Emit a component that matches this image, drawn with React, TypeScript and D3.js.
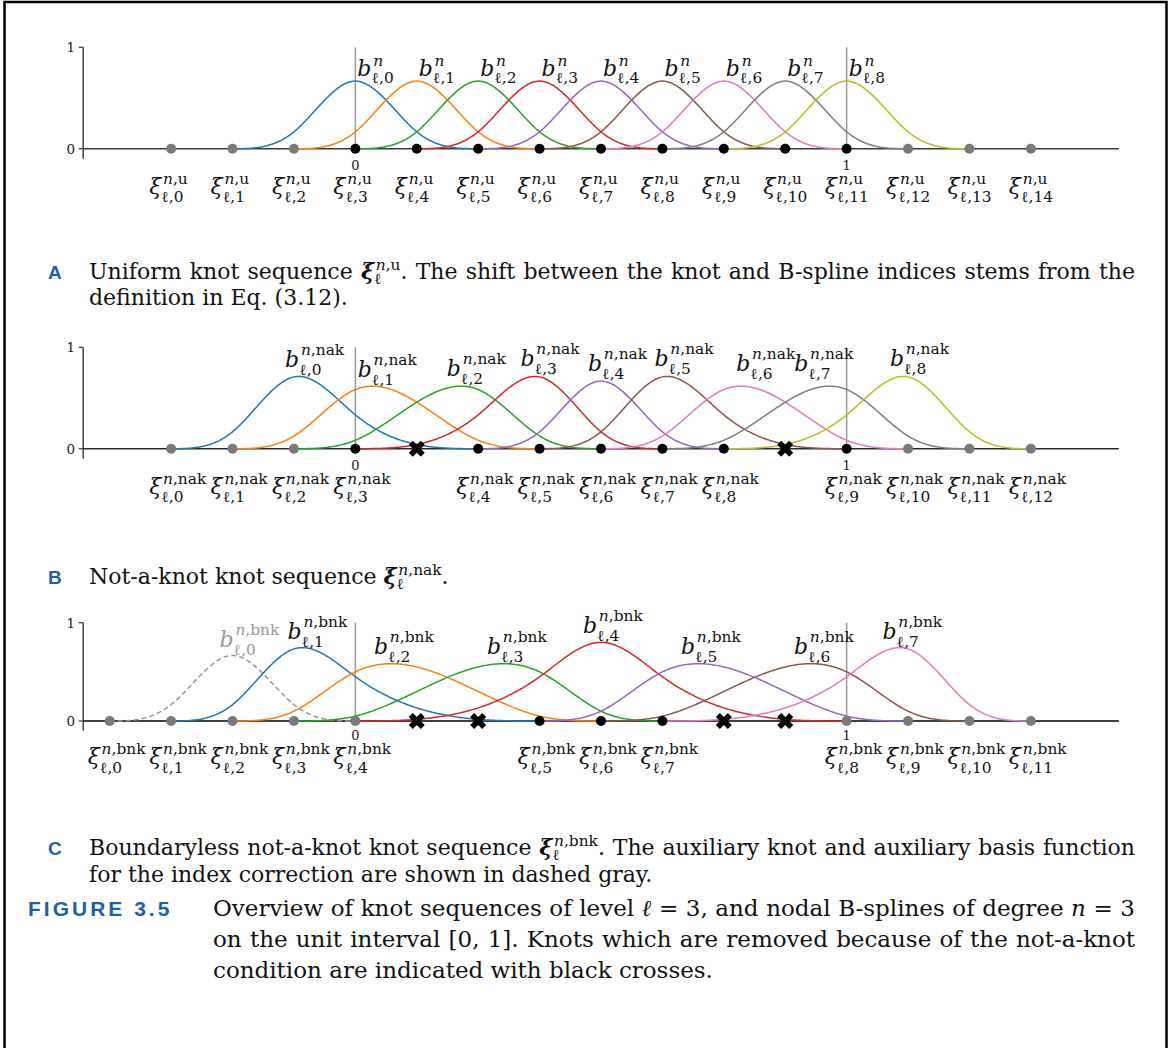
import React from 'react';
import * as d3 from 'd3';

// ---------------- data ----------------
const knotsUniform = [-0.375, -0.25, -0.125, 0, 0.125, 0.25, 0.375, 0.5, 0.625, 0.75, 0.875, 1, 1.125, 1.25, 1.375];
const removedUniform: number[] = [];
const splineFirstKnotUniform = [1, 2, 3, 4, 5, 6, 7, 8, 9];

const knotsNak = [-0.375, -0.25, -0.125, 0, 0.25, 0.375, 0.5, 0.625, 0.75, 1, 1.125, 1.25, 1.375];
const removedNak = [0.125, 0.875];
const splineFirstKnotNak = [0, 1, 2, 3, 4, 5, 6, 7, 8];

const knotsBnk = [-0.5, -0.375, -0.25, -0.125, 0, 0.375, 0.5, 0.625, 1, 1.125, 1.25, 1.375];
const removedBnk = [0.125, 0.25, 0.75, 0.875];
const splineFirstKnotBnk = [0, 1, 2, 3, 4, 5, 6, 7];

const yTickValues = [0, 1];
const xTickValues = [0, 1];
const xTickLabels = ['0', '1'];
const splineColors = ['#1f77b4', '#ff7f0e', '#2ca02c', '#d62728', '#9467bd', '#8c564b', '#e377c2', '#7f7f7f', '#bcbd22', '#17becf'];

// ---------------- layout / style ----------------
const SERIF = 'DejaVu Serif';
const SANS = 'Liberation Sans';
const BLUE = '#1f5fa6';
const KNOT_GRAY = '#7a7a7a';

const xScale = d3.scaleLinear().domain([-0.554, 1.554]).range([83.2, 1118.8]);

type Part = { t: string; i?: boolean; b?: boolean };
type MathF = { kind: 'math'; base: Part; sup: Part[]; sub: Part[] };
type TextF = { kind: 'text'; parts: Part[] };
type Frag = MathF | TextF;
type Word = Frag[];

let ctx: CanvasRenderingContext2D | null = null;
function measure(text: string, size: number, italic = false, bold = false, family = SERIF) {
  if (!ctx) ctx = document.createElement('canvas').getContext('2d');
  if (!ctx) return text.length * size * 0.55;
  ctx.font = `${italic ? 'italic ' : ''}${bold ? 'bold ' : ''}${size}px "${family}"`;
  return ctx.measureText(text).width;
}
const partsWidth = (parts: Part[], size: number) => parts.reduce((s, p) => s + measure(p.t, size, p.i, p.b), 0);

function Parts({ parts }: { parts: Part[] }) {
  return (
    <>
      {parts.map((p, j) => (
        <tspan key={j} fontStyle={p.i ? 'italic' : 'normal'} fontWeight={p.b ? 'bold' : 'normal'}>
          {p.t}
        </tspan>
      ))}
    </>
  );
}

function mathWidth(f: MathF, size: number) {
  const wb = measure(f.base.t, size, f.base.i, f.base.b);
  const ss = size * 0.7;
  return wb + size * 0.08 + Math.max(partsWidth(f.sup, ss), partsWidth(f.sub, ss));
}

function MathFrag({ x, y, f, size, color, supDy, subDy }: { x: number; y: number; f: MathF; size: number; color: string; supDy: number; subDy: number }) {
  const wb = measure(f.base.t, size, f.base.i, f.base.b);
  const ss = size * 0.7;
  return (
    <g fill={color} fontFamily={SERIF}>
      <text x={x} y={y} fontSize={size} fontStyle={f.base.i ? 'italic' : 'normal'} fontWeight={f.base.b ? 'bold' : 'normal'}>
        {f.base.t}
      </text>
      <text x={x + wb + size * 0.08} y={y - supDy} fontSize={ss}>
        <Parts parts={f.sup} />
      </text>
      <text x={x + wb + size * 0.01} y={y + subDy} fontSize={ss}>
        <Parts parts={f.sub} />
      </text>
    </g>
  );
}

const fragWidth = (f: Frag, size: number) => (f.kind === 'math' ? mathWidth(f, size) : partsWidth(f.parts, size));
const wordWidth = (w: Word, size: number) => w.reduce((s, f) => s + fragWidth(f, size), 0);

const plainWords = (s: string): Word[] => s.split(' ').map((w) => [{ kind: 'text', parts: [{ t: w }] } as TextF]);

function RichLine({ x, y, words, size, justifyTo }: { x: number; y: number; words: Word[]; size: number; justifyTo?: number }) {
  const widths = words.map((w) => wordWidth(w, size));
  const total = widths.reduce((a, b) => a + b, 0);
  const space = measure(' ', size);
  const gap = justifyTo ? (justifyTo - x - total) / (words.length - 1) : space;
  let cx = x;
  const out: React.ReactNode[] = [];
  words.forEach((w, wi) => {
    let fx = cx;
    w.forEach((f, fi) => {
      if (f.kind === 'math') {
        out.push(<MathFrag key={`${wi}-${fi}`} x={fx} y={y} f={f} size={size} color="#111" supDy={size * 0.42} subDy={size * 0.24} />);
      } else {
        out.push(
          <text key={`${wi}-${fi}`} x={fx} y={y} fontSize={size} fontFamily={SERIF} fill="#111">
            <Parts parts={f.parts} />
          </text>
        );
      }
      fx += fragWidth(f, size);
    });
    cx += widths[wi] + gap;
  });
  return <g>{out}</g>;
}

// cubic B-spline on 5 knots (Cox-de Boor)
function cubicBSpline(t: number[], x: number): number {
  const N: number[] = [];
  for (let i = 0; i < 4; i++) N[i] = x >= t[i] && x < t[i + 1] ? 1 : 0;
  for (let p = 1; p <= 3; p++) {
    for (let i = 0; i < 4 - p; i++) {
      const a = t[i + p] - t[i] > 0 ? ((x - t[i]) / (t[i + p] - t[i])) * N[i] : 0;
      const b = t[i + p + 1] - t[i + 1] > 0 ? ((t[i + p + 1] - x) / (t[i + p + 1] - t[i + 1])) * N[i + 1] : 0;
      N[i] = a + b;
    }
  }
  return N[0];
}

type PanelCfg = {
  knots: number[];
  removed: number[];
  starts: number[];
  y0: number;
  y1: number;
  labelSup: Part[];
  knotSup: Part[];
  closedInterior: boolean;
  dashedFirst: boolean;
  axisColor: string;
  knotLabelDy: number;
  tickLabelDy: number;
  labelSupDy: number;
  labelSubDy: number;
  nudges: [number, number][];
};

const FS = 22;

function Panel({ cfg }: { cfg: PanelCfg }) {
  const ys = d3.scaleLinear().domain([0, 1]).range([cfg.y0, cfg.y1]);
  const line = d3
    .line<[number, number]>()
    .x((d) => xScale(d[0]))
    .y((d) => ys(d[1]));
  const [xl, xr] = xScale.range();
  const splines = cfg.starts.map((s, k) => {
    const kn = cfg.knots.slice(s, s + 5);
    const pts: [number, number][] = d3.range(0, 301).map((j) => {
      const x = kn[0] + ((kn[4] - kn[0]) * j) / 300;
      return [x, j === 300 ? 0 : cubicBSpline(kn, x)];
    });
    const peak = pts.reduce((a, b) => (b[1] > a[1] ? b : a));
    const dashed = cfg.dashedFirst && k === 0;
    const color = dashed ? '#999' : splineColors[cfg.dashedFirst ? k - 1 : k];
    return { k, pts, peak, dashed, color };
  });
  const crossPath = d3.symbol(d3.symbolCross, 160)() as string;
  const isInner = (v: number) => (cfg.closedInterior ? v >= 0 && v <= 1 : v > 0 && v < 1);
  return (
    <g>
      {xTickValues.map((v) => (
        <line key={'v' + v} x1={xScale(v)} x2={xScale(v)} y1={ys(1)} y2={ys(0)} stroke="#9a9a9a" strokeWidth={1.5} />
      ))}
      <line x1={xl} x2={xl} y1={ys(1)} y2={ys(-0.1)} stroke="#444" strokeWidth={1.5} />
      {yTickValues.map((v) => (
        <g key={'yt' + v}>
          <line x1={xl - 4.5} x2={xl} y1={ys(v)} y2={ys(v)} stroke="#444" strokeWidth={1.3} />
          <text x={xl - 8} y={ys(v) + 4.8} textAnchor="end" fontSize={13.5} fontFamily={SERIF} fill="#222">
            {String(v)}
          </text>
        </g>
      ))}
      <line x1={xl} x2={xr} y1={ys(0)} y2={ys(0)} stroke={cfg.axisColor} strokeWidth={1.4} />
      {xTickValues.map((v, i) => (
        <text key={'xt' + v} x={xScale(v)} y={ys(0) + cfg.tickLabelDy} textAnchor="middle" fontSize={13} fontFamily={SERIF} fill="#222">
          {xTickLabels[i]}
        </text>
      ))}
      {splines.map((s) => (
        <path key={'s' + s.k} d={line(s.pts) as string} fill="none" stroke={s.color} strokeWidth={1.5} strokeDasharray={s.dashed ? '5,3' : undefined} />
      ))}
      {cfg.knots.map((v, i) => (
        <circle key={'k' + i} cx={xScale(v)} cy={ys(0)} r={5} fill={isInner(v) ? '#000' : KNOT_GRAY} />
      ))}
      {cfg.removed.map((v, i) => (
        <path key={'x' + i} d={crossPath} transform={`translate(${xScale(v)},${ys(0)}) rotate(45)`} fill="#000" />
      ))}
      {cfg.knots.map((v, i) => (
        <MathFrag
          key={'kl' + i}
          x={xScale(v) - 22}
          y={ys(0) + cfg.knotLabelDy}
          f={{ kind: 'math', base: { t: 'ξ', i: true }, sup: cfg.knotSup, sub: [{ t: 'ℓ' }, { t: ',' + i }] }}
          size={FS}
          color="#111"
          supDy={9.6}
          subDy={8.6}
        />
      ))}
      {splines.map((s) => (
        <MathFrag
          key={'bl' + s.k}
          x={xScale(s.peak[0]) + cfg.nudges[s.k][0]}
          y={ys(s.peak[1]) + cfg.nudges[s.k][1]}
          f={{ kind: 'math', base: { t: 'b', i: true }, sup: cfg.labelSup, sub: [{ t: 'ℓ' }, { t: ',' + s.k }] }}
          size={FS}
          color={s.dashed ? '#999' : '#111'}
          supDy={cfg.labelSupDy}
          subDy={cfg.labelSubDy}
        />
      ))}
    </g>
  );
}

const panelA: PanelCfg = {
  knots: knotsUniform,
  removed: removedUniform,
  starts: splineFirstKnotUniform,
  y0: 148.7,
  y1: 47.3,
  labelSup: [{ t: 'n', i: true }],
  knotSup: [{ t: 'n', i: true }, { t: ',u' }],
  closedInterior: true,
  dashedFirst: false,
  axisColor: '#3a3a3a',
  knotLabelDy: 44.8,
  tickLabelDy: 21,
  labelSupDy: 10,
  labelSubDy: 7,
  nudges: Array.from({ length: 9 }, () => [2, -5] as [number, number]),
};

const panelB: PanelCfg = {
  knots: knotsNak,
  removed: removedNak,
  starts: splineFirstKnotNak,
  y0: 448.7,
  y1: 347.3,
  labelSup: [{ t: 'n', i: true }, { t: ',nak' }],
  knotSup: [{ t: 'n', i: true }, { t: ',nak' }],
  closedInterior: true,
  dashedFirst: false,
  axisColor: '#2a2a2a',
  knotLabelDy: 44.8,
  tickLabelDy: 21,
  labelSupDy: 12,
  labelSubDy: 8,
  nudges: [[-14, -9], [-15, -9], [-14, -10], [-14, -10], [-13, -10], [-13, -10], [-5, -15], [-35, -15], [-13, -10]],
};

const panelC: PanelCfg = {
  knots: knotsBnk,
  removed: removedBnk,
  starts: splineFirstKnotBnk,
  y0: 721,
  y1: 622.7,
  labelSup: [{ t: 'n', i: true }, { t: ',bnk' }],
  knotSup: [{ t: 'n', i: true }, { t: ',bnk' }],
  closedInterior: false,
  dashedFirst: true,
  axisColor: '#000',
  knotLabelDy: 43,
  tickLabelDy: 19,
  labelSupDy: 12,
  labelSubDy: 8,
  nudges: [[-13, -8], [-15, -9], [-17, -10], [-17, -10], [-18, -9], [-17, -10], [-17, -10], [-17, -9]],
};

const CAP = 22;
const FIGCAP = 23;

const xiMath = (tag: string): MathF => ({ kind: 'math', base: { t: 'ξ', i: true, b: true }, sup: [{ t: 'n', i: true }, { t: ',' + tag }], sub: [{ t: 'ℓ' }] });
const dotText: TextF = { kind: 'text', parts: [{ t: '.' }] };

const capA1: Word[] = [...plainWords('Uniform knot sequence'), [xiMath('u'), dotText], ...plainWords('The shift between the knot and B-spline indices stems from the')];
const capA2: Word[] = plainWords('definition in Eq. (3.12).');
const capB1: Word[] = [...plainWords('Not-a-knot knot sequence'), [xiMath('nak'), dotText]];
const capC1: Word[] = [...plainWords('Boundaryless not-a-knot knot sequence'), [xiMath('bnk'), dotText], ...plainWords('The auxiliary knot and auxiliary basis function')];
const capC2: Word[] = plainWords('for the index correction are shown in dashed gray.');
const fig1: Word[] = [
  ...plainWords('Overview of knot sequences of level'),
  [{ kind: 'text', parts: [{ t: 'ℓ', i: true }] }],
  ...plainWords('= 3, and nodal B-splines of degree'),
  [{ kind: 'text', parts: [{ t: 'n', i: true }] }],
  ...plainWords('= 3'),
];
const fig2: Word[] = plainWords('on the unit interval [0, 1]. Knots which are removed because of the not-a-knot');
const fig3: Word[] = plainWords('condition are indicated with black crosses.');

function SubLabel({ x, y, t }: { x: number; y: number; t: string }) {
  return (
    <text x={x} y={y} fontFamily={SANS} fontWeight="bold" fontSize={19} fill={BLUE}>
      {t}
    </text>
  );
}

export default function App() {
  return (
    <svg width={1169} height={1048} style={{ position: 'absolute', left: 0, top: 0, background: '#fff' }}>
      <rect x={0} y={0} width={1169} height={1048} fill="#fff" />
      <path d="M4.5,1048 V2 H1166.5 V1048" fill="none" stroke="#000" strokeWidth={2.5} />

      <Panel cfg={panelA} />
      <Panel cfg={panelB} />
      <Panel cfg={panelC} />

      <SubLabel x={48} y={279} t="A" />
      <RichLine x={89} y={279} words={capA1} size={CAP} justifyTo={1135} />
      <RichLine x={89} y={305} words={capA2} size={CAP} />

      <SubLabel x={48} y={584} t="B" />
      <RichLine x={89} y={584} words={capB1} size={CAP} />

      <SubLabel x={48} y={855} t="C" />
      <RichLine x={89} y={855} words={capC1} size={CAP} justifyTo={1135} />
      <RichLine x={89} y={882} words={capC2} size={CAP} />

      <text x={28} y={916} fontFamily={SANS} fontWeight="bold" fontSize={21} letterSpacing={3} fill={BLUE}>
        FIGURE 3.5
      </text>
      <RichLine x={213} y={916} words={fig1} size={FIGCAP} justifyTo={1135} />
      <RichLine x={213} y={947} words={fig2} size={FIGCAP} justifyTo={1135} />
      <RichLine x={213} y={978} words={fig3} size={FIGCAP} />
    </svg>
  );
}
